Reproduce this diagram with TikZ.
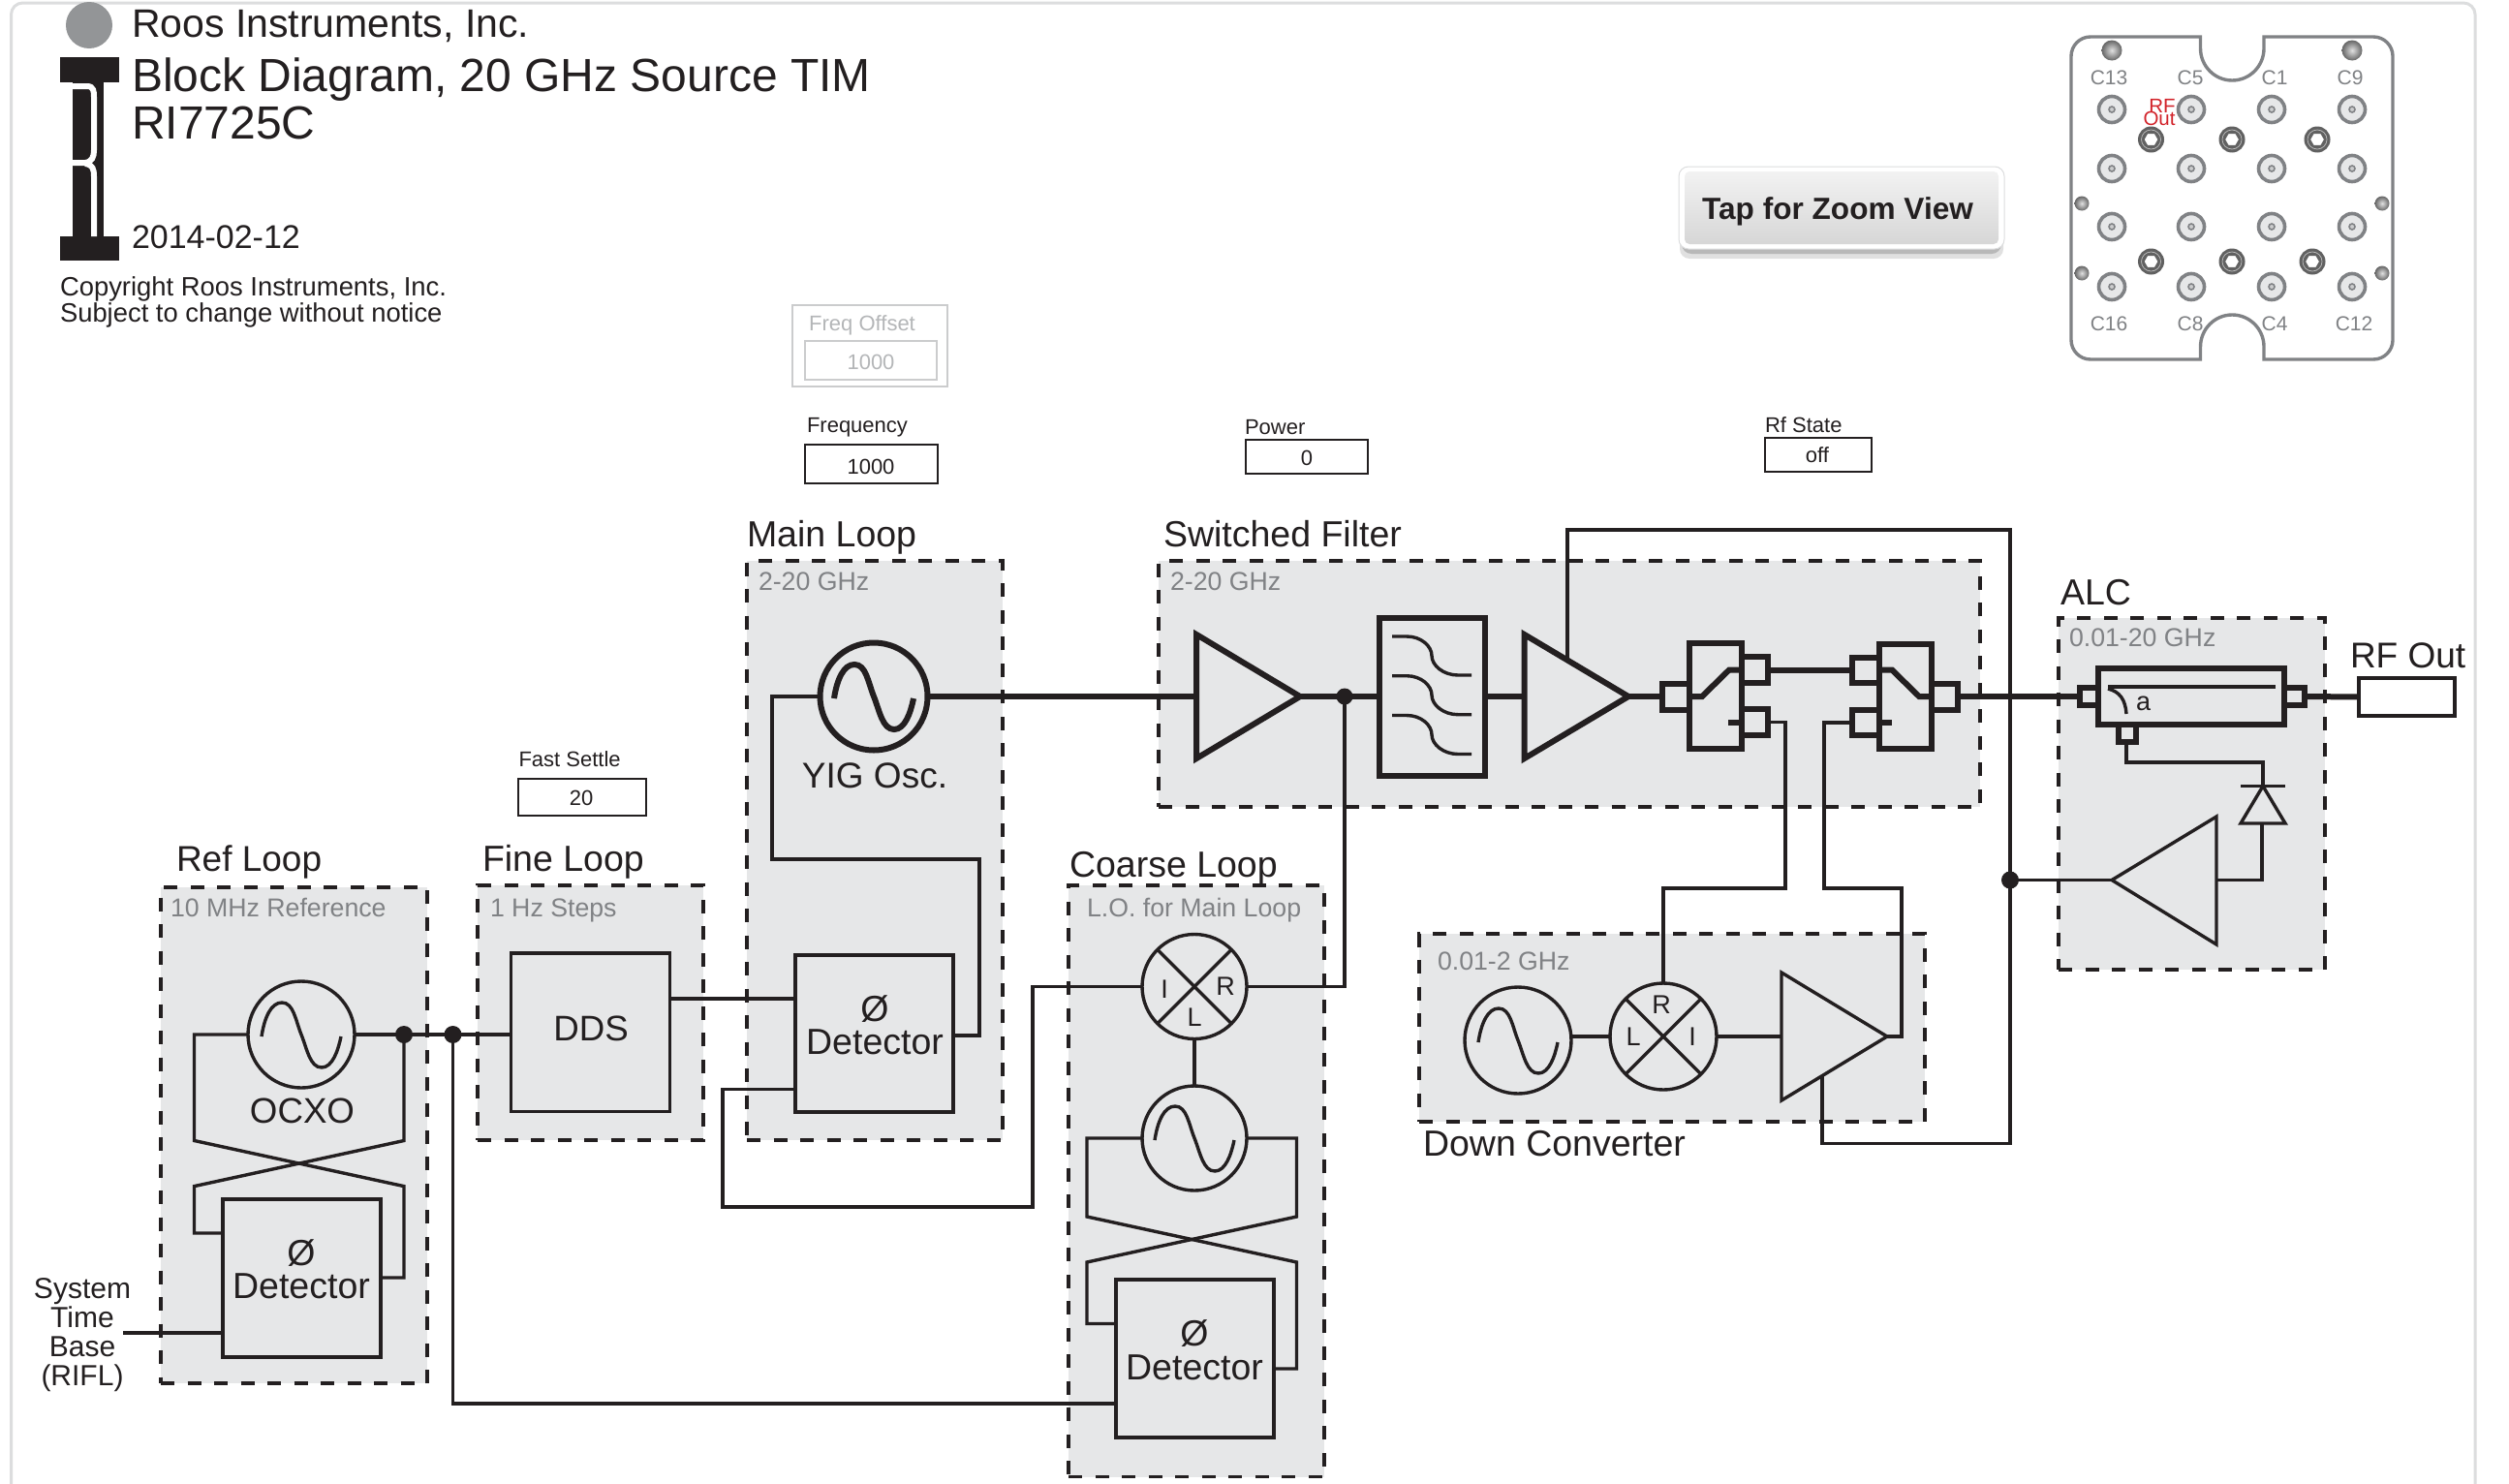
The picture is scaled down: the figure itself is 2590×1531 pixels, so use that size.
\documentclass[tikz,border=0pt]{standalone}
\usepackage{fontspec}
\setmainfont{Liberation Sans}
\usetikzlibrary{calc}
\definecolor{ink}{HTML}{231F20}
\definecolor{panel}{HTML}{E6E7E8}
\definecolor{midgrey}{HTML}{808285}
\definecolor{pale}{HTML}{B4B6B8}
\definecolor{framegrey}{HTML}{DCDDDE}
\definecolor{redlab}{HTML}{D2232A}
\newcommand{\fsz}[1]{\fontsize{#1}{#1}\selectfont}
\tikzset{
  txt/.style={anchor=base west,inner sep=0pt,outer sep=0pt,text=ink,font=\fsz{#1}},
  ctxt/.style={anchor=base,inner sep=0pt,outer sep=0pt,text=ink,font=\fsz{#1}},
  grp/.style={draw=ink,fill=panel,line width=3.6pt,dash pattern=on 14pt off 13.5pt,rectangle,inner sep=0pt,outer sep=0pt},
  sublab/.style={anchor=base west,inner sep=0pt,outer sep=0pt,text=midgrey,font=\fsz{26.7}},
  blockbox/.style={draw=ink,line width=3.4pt,rectangle,inner sep=0pt,outer sep=0pt},
  thickbox/.style={draw=ink,line width=6pt,rectangle,inner sep=0pt,outer sep=0pt},
  entry/.style={draw=ink,line width=1.6pt,fill=white,rectangle,inner sep=0pt,outer sep=0pt},
  ring/.style={draw=ink,line width=3.4pt,circle,inner sep=0pt,outer sep=0pt,minimum size=108pt},
  thickring/.style={draw=ink,line width=6pt,circle,inner sep=0pt,outer sep=0pt,minimum size=111pt},
  wire/.style={draw=ink,line width=3.4pt,line join=miter},
  fat/.style={draw=ink,line width=6pt,line join=miter},
  jn/.style={circle,fill=ink,inner sep=0pt,outer sep=0pt,minimum size=18pt},
  plate/.style={draw=midgrey,line width=3.4pt},
  pinlab/.style={anchor=base,inner sep=0pt,outer sep=0pt,text=midgrey,font=\fsz{21}},
  mixlab/.style={anchor=center,inner sep=0pt,outer sep=0pt,text=ink,font=\fsz{27}},
}
\newcommand{\sinewave}[2]{\draw[#2,shift={(#1.center)}] (-41,2) .. controls (-38,-18) and (-31,-33) .. (-20,-33) .. controls (-8,-33) and (-6,-15) .. (0,0) .. controls (6,15) and (9,34) .. (21,34) .. controls (32,34) and (38,17) .. (41,2);}
\newcommand{\filtercurve}[1]{\draw[draw=ink,line width=3.4pt,shift={(0,#1)}] (1437,657) -- (1452,657) .. controls (1467,657) and (1478,667) .. (1478,677) .. controls (1478,687) and (1490,697) .. (1505,697) -- (1519,697);}
\newcommand{\crossmix}[1]{\draw[wire] (#1.45) -- (#1.225); \draw[wire] (#1.135) -- (#1.315);}
\begin{document}
\begin{tikzpicture}[x=1pt,y=-1pt]
\useasboundingbox (0,0) rectangle (2590,1531);
\clip (0,0) rectangle (2590,1531);
\fill[white] (0,0) rectangle (2590,1531);
% frame
\draw[framegrey,line width=3pt,rounded corners=12pt] (11.5,1600) -- (11.5,3) -- (2555,3) -- (2555,1600);

% header
\fill[midgrey!85!white] (92,26) circle (24);
\fill[ink] (62,59) rectangle (123,85);
\fill[ink] (62,244) rectangle (123,269);
\fill[ink] (75,85) rectangle (107,244);
\draw[white,line width=6pt] (70,89) -- (90,89) .. controls (97,89) and (97,95) .. (97,100) -- (97,155) .. controls (97,162) and (95,167) .. (88,168) -- (70,168);
\draw[white,line width=6pt] (88,169) .. controls (96,170) and (97,175) .. (97,182) -- (97,244);
\node[txt=41] (t1) at (136,38) {Roos Instruments, Inc.};
\node[txt=48] (t2) at (136,94) {Block Diagram, 20 GHz Source TIM};
\node[txt=48] (t3) at (136,143) {RI7725C};
\node[txt=34] (t4) at (136,256) {2014-02-12};
\node[txt=27.4] (t5) at (62,305) {Copyright Roos Instruments, Inc.};
\node[txt=27.4] (t6) at (62,332) {Subject to change without notice};

% entry fields
\node[draw=pale!70!white,line width=1.6pt,rectangle,inner sep=0pt,minimum width=160pt,minimum height=84pt] (foffbox) at (898,357) {};
\node[anchor=base west,inner sep=0pt,text=pale,font=\fsz{22}] (foff) at (835,341) {Freq Offset};
\node[draw=pale!70!white,line width=1.6pt,rectangle,inner sep=0pt,minimum width=136pt,minimum height=40pt] (foffval) at (899,372) {};
\node[anchor=base,inner sep=0pt,text=pale,font=\fsz{22}] (foffnum) at (899,381) {1000};
\node[txt=22] (freq) at (833,446) {Frequency};
\node[entry,minimum width=137pt,minimum height=40pt] (freqbox) at (899.5,479) {};
\node[ctxt=22] (freqv) at (899,489) {1000};
\node[txt=22] (pow) at (1285,448) {Power};
\node[entry,minimum width=126pt,minimum height=35pt] (powbox) at (1349,471.5) {};
\node[ctxt=22] (powv) at (1349,480) {0};
\node[txt=22] (rfs) at (1822,446) {Rf State};
\node[entry,minimum width=110pt,minimum height=35pt] (rfsbox) at (1877,469.5) {};
\node[ctxt=22] (rfsv) at (1876,477) {off};
\node[txt=22] (fast) at (535.5,791) {Fast Settle};
\node[entry,minimum width=132pt,minimum height=38pt] (fastbox) at (601,823) {};
\node[ctxt=22] (fastv) at (600,831) {20};

% button
\fill[black!12,rounded corners=10pt] (1734,180) rectangle (2068,267);
\fill[black!28,rounded corners=10pt] (1736,180) rectangle (2066,262);
\draw[framegrey,fill=white,line width=1pt,rounded corners=10pt] (1733,172) rectangle (2069,257);
\shade[top color=black!5,bottom color=black!16,rounded corners=5pt] (1739,177) rectangle (2063,252);
\node[anchor=base,inner sep=0pt,text=ink,font=\fsz{31.6}\bfseries] (btn) at (1897,226) {Tap for Zoom View};

% connector plate
\draw[plate,rounded corners=20pt] (2138,100) -- (2138,38) -- (2200,38) [sharp corners] -- (2271.5,38) -- (2271.5,50) arc[start angle=180,end angle=360,x radius=32.75,y radius=-33] -- (2337,38) -- (2420,38) [rounded corners=20pt] -- (2470,38) -- (2470,371) -- (2420,371) [sharp corners] -- (2337,371) -- (2337,358) arc[start angle=0,end angle=180,x radius=32.75,y radius=-33] -- (2271.5,371) -- (2200,371) [rounded corners=20pt] -- (2138,371) -- (2138,100);
\foreach \x in {2180,2262,2345,2428}{\foreach \y in {113,174,234,296}{
  \draw[midgrey,line width=3.6pt,fill=panel] (\x,\y) circle (13.5);
  \draw[midgrey,line width=1.6pt,fill=midgrey!40!white] (\x,\y) circle (3);
}}
\foreach \x/\y in {2220.5/144,2304/144,2392/144,2220.5/270,2304/270,2387/270}{
  \fill[black!62] (\x,\y) circle (13.5);
  \draw[black!25,line width=.7pt] (\x,\y) circle (10);
  \draw[black!62,line width=1pt,fill=white,shift={(\x,\y)}] (0:7.5) -- (60:7.5) -- (120:7.5) -- (180:7.5) -- (240:7.5) -- (300:7.5) -- cycle;
}
\foreach \x/\y/\r in {2180/52/10.5,2428/52/10.5,2149/210/7.5,2459/210/7.5,2149/282/7.5,2459/282/7.5}{
  \shade[inner color=black!12,outer color=black!60] (\x,\y) circle (\r);
}
\node[pinlab] (c13) at (2177,87) {C13};
\node[pinlab] (c5) at (2261,87) {C5};
\node[pinlab] (c1) at (2348,87) {C1};
\node[pinlab] (c9) at (2426,87) {C9};
\node[pinlab] (c16) at (2177,341) {C16};
\node[pinlab] (c8) at (2261,341) {C8};
\node[pinlab] (c4) at (2348,341) {C4};
\node[pinlab] (c12) at (2430,341) {C12};
\node[anchor=base,inner sep=0pt,text=redlab,font=\fsz{20.5}] (rflab) at (2232,116) {RF};
\node[anchor=base,inner sep=0pt,text=redlab,font=\fsz{20.5}] (outlab) at (2229,129) {Out};

% group panels
\node[grp,minimum width=275pt,minimum height=512pt] (gref) at (303.5,1172) {};
\node[grp,minimum width=233pt,minimum height=263pt] (gfine) at (609.5,1045.5) {};
\node[grp,minimum width=264pt,minimum height=598pt] (gmain) at (903,878) {};
\node[grp,minimum width=264pt,minimum height=610.5pt] (gcoarse) at (1235,1219.25) {};
\node[grp,minimum width=848pt,minimum height=254pt] (gsw) at (1620,706) {};
\node[grp,minimum width=522pt,minimum height=194pt] (gdown) at (1726,1061) {};
\node[grp,minimum width=275pt,minimum height=363pt] (galc) at (2262.5,819.5) {};

% group titles
\node[txt=37] (lref) at (182,899.5) {Ref Loop};
\node[txt=37.5] (lfine) at (498,899) {Fine Loop};
\node[txt=37.5] (lmain) at (771,564) {Main Loop};
\node[txt=37.5] (lcoarse) at (1104,905) {Coarse Loop};
\node[txt=37.5] (lsw) at (1201,564) {Switched Filter};
\node[txt=37.5] (lalc) at (2127,624) {ALC};
\node[txt=37.5] (ldown) at (1469,1193) {Down Converter};
\node[sublab] (sref) at (176,946.5) {10 MHz Reference};
\node[sublab] (sfine) at (506,946.5) {1 Hz Steps};
\node[sublab] (smain) at (783,609.5) {2-20 GHz};
\node[sublab] (scoarse) at (1122,946) {L.O. for Main Loop};
\node[sublab] (ssw) at (1208,609.5) {2-20 GHz};
\node[sublab] (salc) at (2136,667) {0.01-20 GHz};
\node[sublab] (sdown) at (1484,1001) {0.01-2 GHz};

% Ref loop
\node[ring,minimum size=110pt] (ocxo) at (311,1068) {};
\sinewave{ocxo}{wire}
\node[ctxt=36.7] (ocxol) at (312,1159.5) {OCXO};
\node[blockbox,minimum width=163pt,minimum height=163pt] (det1) at (311.5,1319.5) {};
\node[ctxt=37.5] (det1a) at (311,1306.5) {Ø};
\node[ctxt=37.5] (det1b) at (311,1340.5) {Detector};
\node[jn] (j1) at (417,1068) {};
\node[jn] (j2) at (467.5,1068) {};
\draw[wire] (ocxo.east) -- (j1.center);
\draw[wire] (j1.center) -- (417,1177.5) -- (200.5,1224.6) -- (200.5,1273) -- (det1.west |- 0,1273);
\draw[wire] (ocxo.west) -- (200.5,1068) -- (200.5,1177.5) -- (417,1224.6) -- (417,1319) -- (det1.east |- 0,1319);
\draw[wire] (j1.center) -- (j2.center);
\node[ctxt=30] (sys1) at (85,1340.5) {System};
\node[ctxt=30] (sys2) at (85,1370.5) {Time};
\node[ctxt=30] (sys3) at (85,1400.5) {Base};
\node[ctxt=30] (sys4) at (85,1430.5) {(RIFL)};
\coordinate (sysin) at (127,1376);
\draw[wire] (sysin) -- (det1.west |- sysin);

% Fine loop
\node[blockbox,minimum width=163.5pt,minimum height=163.5pt] (dds) at (609.5,1065.75) {};
\node[ctxt=36.7] (ddsl) at (610,1074) {DDS};
\draw[wire] (j2.center) -- (dds.west |- j2.center);

% Main loop
\node[thickring] (yig) at (902,719) {};
\sinewave{yig}{fat}
\node[ctxt=37] (yigl) at (903,813) {YIG Osc.};
\node[blockbox,minimum width=163pt,minimum height=162pt] (det2) at (902.5,1067) {};
\node[ctxt=37.5] (det2a) at (903,1054.5) {Ø};
\node[ctxt=37.5] (det2b) at (903,1088.5) {Detector};
\draw[wire] (yig.west) -- (797,719) -- (797,887) -- (1011,887) -- (1011,1069) -- (det2.east |- 0,1069);
\draw[wire] (dds.east |- 0,1031) -- (det2.west |- 0,1031);

% Coarse loop
\node[ring] (mix1) at (1233,1018.5) {};
\crossmix{mix1}
\node[mixlab] (mix1i) at (1202,1021) {I};
\node[mixlab] (mix1r) at (1265,1018) {R};
\node[mixlab] (mix1l) at (1233,1050) {L};
\node[ring] (lo) at (1233,1175) {};
\sinewave{lo}{wire}
\node[blockbox,minimum width=163pt,minimum height=163pt] (det3) at (1233.5,1402.5) {};
\node[ctxt=37.5] (det3a) at (1233,1389) {Ø};
\node[ctxt=37.5] (det3b) at (1233,1424) {Detector};
\draw[wire] (mix1.south) -- (lo.north);
\draw[wire] (lo.west) -- (1122,1175) -- (1122,1256) -- (1338.5,1303) -- (1338.5,1413) -- (det3.east |- 0,1413);
\draw[wire] (lo.east) -- (1338.5,1175) -- (1338.5,1256) -- (1122,1303) -- (1122,1366.5) -- (det3.west |- 0,1366.5);
\draw[wire] (j2.center) -- (467.5,1449) -- (det3.west |- 0,1449);
\draw[wire] (det2.west |- 0,1124.5) -- (746,1124.5) -- (746,1246) -- (1066,1246) -- (1066,1018.5) -- (mix1.west);

% Switched filter chain
\coordinate (a1in) at (1235,719);
\coordinate (a1out) at (1342,719);
\draw[fat] (1235,655) -- (a1out) -- (1235,783) -- cycle;
\node[jn,minimum size=17pt] (j3) at (1388,719) {};
\node[thickbox,minimum width=108.5pt,minimum height=163pt] (filt) at (1478.5,719) {};
\filtercurve{0}
\filtercurve{40.7}
\filtercurve{81.5}
\coordinate (a2in) at (1573.5,719);
\coordinate (a2out) at (1681,719);
\coordinate (a2c) at (1618,680);
\draw[fat] (1573.5,655) -- (a2out) -- (1573.5,783) -- cycle;
\draw[fat] (yig.east) -- (a1in);
\draw[fat] (a1out) -- (j3.center) -- (filt.west);
\draw[fat] (filt.east) -- (a2in);
\draw[wire] (j3.center) -- (1388,1018.5) -- (mix1.east);

% switch 1
\node[thickbox,minimum width=54pt,minimum height=109pt] (s1) at (1771,718.5) {};
\node[thickbox,minimum width=28pt,minimum height=27pt] (s1in) at (1730,719) {};
\node[thickbox,minimum width=27pt,minimum height=27pt] (s1a) at (1811.5,691.5) {};
\node[thickbox,minimum width=27pt,minimum height=27pt] (s1b) at (1811.5,745.5) {};
\draw[fat] (s1.west |- 0,719) -- (1757,719) -- (1785,691.5) -- (s1.east |- 0,691.5);
\draw[fat] (1784,746) -- (s1.east |- 0,746);
\draw[fat] (a2out) -- (s1in.west);

% switch 2
\node[thickbox,minimum width=54pt,minimum height=108pt] (s2) at (1967,719) {};
\node[thickbox,minimum width=28pt,minimum height=26pt] (s2a) at (1926,691.5) {};
\node[thickbox,minimum width=28pt,minimum height=26pt] (s2b) at (1926,746) {};
\node[thickbox,minimum width=27pt,minimum height=27pt] (s2out) at (2007.5,719) {};
\draw[fat] (s2.west |- 0,691.5) -- (1953,691.5) -- (1981,719) -- (s2.east |- 0,719);
\draw[fat] (s2.west |- 0,746) -- (1953,746);
\draw[fat] (s1a.east) -- (s2a.west);

% ALC
\node[thickbox,minimum width=192pt,minimum height=58pt] (cpl) at (2262,719) {};
\node[thickbox,minimum width=19pt,minimum height=18pt] (cplin) at (2156.5,719) {};
\node[thickbox,minimum width=21pt,minimum height=18pt] (cplout) at (2368.5,719) {};
\node[thickbox,minimum width=18pt,minimum height=18pt] (cplc) at (2196,757) {};
\draw[wire] (2176,709) -- (2349,709);
\draw[wire] (2176,711) .. controls (2188,714) and (2194,722) .. (2195,737);
\node[txt=27] (cpla) at (2205,733) {a};
\node[blockbox,minimum width=99pt,minimum height=39pt] (rfout) at (2484.5,719.5) {};
\node[txt=37] (rfoutl) at (2426,689) {RF Out};
\draw[fat] (s2out.east) -- (cplin.west);
\draw[fat] (cplout.east) -- (rfout.west);
\coordinate (a3in) at (2180,908.5);
\coordinate (a3out) at (2288,908.5);
\draw[wire] (a3in) -- (2288,843) -- (2288,975) -- cycle;
\coordinate (dbase) at (2336,850);
\coordinate (dbar) at (2336,811.5);
\draw[wire] (2313,850) -- (2359,850) -- (dbar) -- cycle;
\draw[wire] (2313,811.5) -- (2359,811.5);
\draw[wire] (cplc.south -| 2195,0) -- (2195,787) -- (2336,787) -- (dbar);
\draw[wire] (a3out) -- (2335,908.5) -- (2335,850);

% Down converter
\node[ring,minimum size=110pt] (osc4) at (1567,1074) {};
\sinewave{osc4}{wire}
\node[ring,minimum size=110pt] (mix2) at (1717,1070) {};
\crossmix{mix2}
\node[mixlab] (mix2r) at (1715,1037) {R};
\node[mixlab] (mix2l) at (1686,1070) {L};
\node[mixlab] (mix2i) at (1747,1070) {I};
\coordinate (a4in) at (1839,1070);
\coordinate (a4out) at (1948,1070);
\coordinate (a4c) at (1881,1111);
\draw[wire] (a4in |- 0,1004) -- (a4out) -- (a4in |- 0,1136) -- cycle;
\draw[wire] (mix2.west) -- (mix2.west -| osc4.east);
\draw[wire] (mix2.east) -- (a4in);

% long control wires
\node[jn] (j4) at (2075,908.5) {};
\draw[wire] (a2c) -- (1618,547) -- (2075,547) -- (2075,1180.5) -- (1881,1180.5) -- (a4c);
\draw[wire] (j4.center) -- (a3in);
\draw[wire] (s1b.east) -- (1843,745.5) -- (1843,917) -- (1717,917) -- (mix2.north);
\draw[wire] (s2b.west) -- (1883,746) -- (1883,917) -- (1963,917) -- (1963,1070) -- (a4out);
\end{tikzpicture}
\end{document}
